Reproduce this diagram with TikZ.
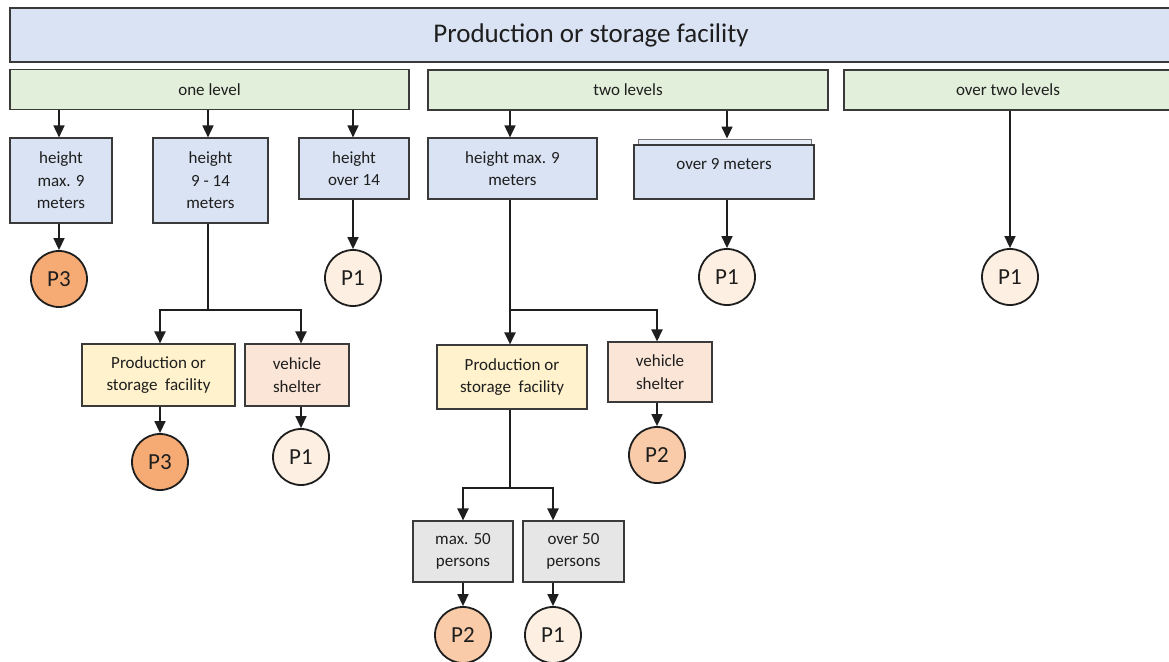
\documentclass[tikz,border=0pt]{standalone}
\usepackage{fontspec}
\setmainfont{Carlito}
\usetikzlibrary{arrows.meta}

\definecolor{edge}{HTML}{3A3A3A}
\definecolor{ink}{HTML}{1E1E1E}
\definecolor{bluefill}{HTML}{DAE3F3}
\definecolor{bluelight}{HTML}{E6ECF7}
\definecolor{greenfill}{HTML}{E2EFDA}
\definecolor{yellowfill}{HTML}{FFF2CC}
\definecolor{pinkfill}{HTML}{FBE5D6}
\definecolor{greyfill}{HTML}{E7E6E6}
\definecolor{prioA}{HTML}{F7AB74}
\definecolor{prioB}{HTML}{F9CBA8}
\definecolor{prioC}{HTML}{FDEFE2}

\begin{document}
\begin{tikzpicture}[x=1pt,y=-1pt,
  box/.style={draw=edge, line width=1.1pt, inner sep=0pt, align=center,
    text=ink, font={\fontsize{17}{22.5}\selectfont}},
  head/.style={box, fill=greenfill, minimum height=40pt},
  qbox/.style={box, fill=bluefill},
  prod/.style={box, fill=yellowfill},
  shelter/.style={box, fill=pinkfill},
  pers/.style={box, fill=greyfill},
  prio/.style={circle, draw=ink, line width=1.8pt, minimum size=56pt,
    inner sep=0pt, text=ink, font={\fontsize{23}{23}\selectfont}},
  arr/.style={draw=ink, line width=1.5pt,
    -{Triangle[length=12pt,width=11pt]}},
  trunk/.style={draw=ink, line width=2.4pt},
  branch/.style={draw=ink, line width=2.4pt,
    -{Triangle[length=12pt,width=11pt]}}
]
\useasboundingbox (0,0) rectangle (1169,661);
\fill[white] (0,0) rectangle (1169,661);
\clip (0,0) rectangle (1169,661);

% title bar
\node[box, fill=bluefill, minimum width=1162pt, minimum height=54pt,
  font={\fontsize{27}{30}\selectfont}] (title) at (591,35)
  {Production or storage facility};

% number of levels
\node[head, minimum width=399pt] (lvl1) at (209.5,89.5) {one level};
\node[head, minimum width=400pt] (lvl2) at (628,90) {two levels};
\node[head, minimum width=328pt] (lvl3) at (1008,90) {over two levels};

% one level: heights
\node[qbox, minimum width=102pt, minimum height=85pt] (h1) at (61,180.5)
  {height\\max. 9\\meters};
\node[qbox, minimum width=115pt, minimum height=85pt] (h2) at (210.5,180.5)
  {height\\9 - 14\\meters};
\node[qbox, minimum width=110pt, minimum height=61pt] (h3) at (354,168.5)
  {height\\over 14};

\node[prio, fill=prioA] (c1) at (59,279) {P3};
\node[prio, fill=prioC] (c2) at (353,278) {P1};

\node[prod, minimum width=153pt, minimum height=62pt] (y1) at (158.5,375)
  {Production or\\storage\ \ facility};
\node[shelter, minimum width=104pt, minimum height=62pt] (k1) at (297,375)
  {vehicle\\shelter};

\node[prio, fill=prioA] (c3) at (160,462) {P3};
\node[prio, fill=prioC] (c4) at (301,457) {P1};

\coordinate (j1) at (208,310);

% two levels: heights
\node[qbox, minimum width=169pt, minimum height=61pt] (h4) at (512.5,168.5)
  {height max. 9\\meters};
\node[qbox, fill=bluelight, draw=edge!70, line width=0.9pt,
  minimum width=173pt, minimum height=12pt] (h5back) at (724.5,145) {};
\node[qbox, minimum width=180pt, minimum height=54pt]
  (h5) at (724,172) {\raisebox{2.5pt}[0pt][0pt]{over 9 meters}};

\node[prio, fill=prioC] (c5) at (727,277) {P1};

\node[prod, minimum width=150pt, minimum height=64pt] (y2) at (512,377)
  {Production or\\storage\ \ facility};
\node[shelter, minimum width=104pt, minimum height=60pt] (k2) at (660,372)
  {vehicle\\shelter};

\node[prio, fill=prioB] (c6) at (657,455) {P2};

\coordinate (j2) at (510,310);
\coordinate (j3) at (510,488);

\node[pers, minimum width=100pt, minimum height=61pt] (g1) at (463,551.5)
  {max. 50\\persons};
\node[pers, minimum width=101pt, minimum height=61pt] (g2) at (573.5,551.5)
  {over 50\\persons};

\node[prio, fill=prioB] (c7) at (463,635) {P2};
\node[prio, fill=prioC] (c8) at (553,635) {P1};

% over two levels
\node[prio, fill=prioC] (c9) at (1010,277) {P1};

% connectors: one level
\draw[arr] (lvl1.south -| c1) -- (h1.north -| c1);
\draw[arr] (lvl1.south -| j1) -- (h2.north -| j1);
\draw[arr] (lvl1.south -| c2) -- (h3.north -| c2);
\draw[arr] (h1.south -| c1) -- (c1);
\draw[arr] (h3.south -| c2) -- (c2);
\draw[trunk] (h2.south -| j1) -- (j1);
\draw[branch] (j1) -| (y1.north -| c3);
\draw[branch] (j1) -| (k1.north -| c4);
\draw[arr] (y1.south -| c3) -- (c3);
\draw[arr] (k1.south -| c4) -- (c4);

% connectors: two levels
\draw[arr] (lvl2.south -| j2) -- (h4.north -| j2);
\draw[arr] (lvl2.south -| c5) -- (h5back.north -| c5);
\draw[arr] (h5.south -| c5) -- (c5);
\draw[trunk] (h4.south -| j2) -- (j2);
\draw[branch] (j2) -| (y2.north -| j2);
\draw[branch] (j2) -| (k2.north -| c6);
\draw[arr] (k2.south -| c6) -- (c6);
\draw[trunk] (y2.south -| j3) -- (j3);
\draw[branch] (j3) -| (g1.north -| c7);
\draw[branch] (j3) -| (g2.north -| c8);
\draw[arr] (g1.south -| c7) -- (c7);
\draw[arr] (g2.south -| c8) -- (c8);

% connectors: over two levels
\draw[arr] (lvl3.south -| c9) -- (c9);
\end{tikzpicture}
\end{document}
